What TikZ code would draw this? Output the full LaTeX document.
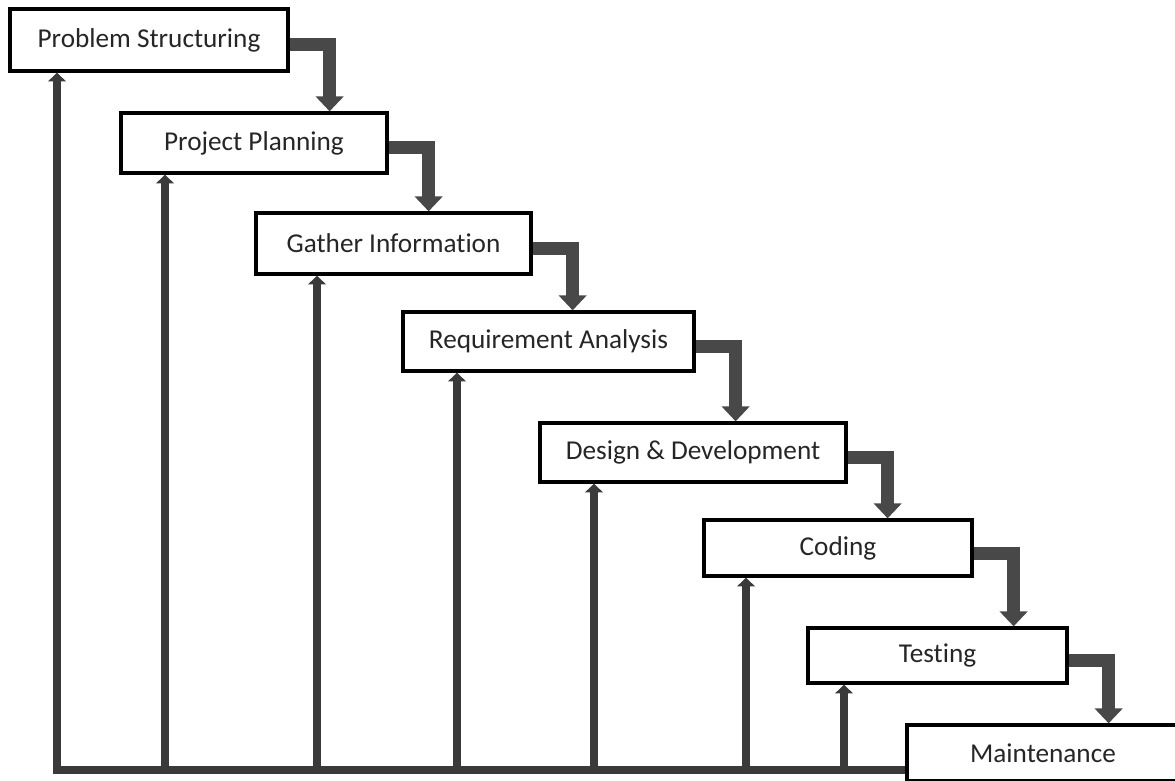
\documentclass[tikz,border=0pt]{standalone}
\usepackage{fontspec}
\setmainfont{Carlito}[Ligatures=NoCommon]
\usepackage{tikz}
\usetikzlibrary{arrows.meta}
\definecolor{flowgray}{HTML}{484848}
\definecolor{backgray}{HTML}{3A3A3A}
\definecolor{textgray}{HTML}{262626}

\begin{document}
\begin{tikzpicture}[x=0.02cm,y=-0.02cm,
	stage/.style={draw=black, line width=1.9pt, fill=white, text=textgray,
		font=\fontsize{15.5}{18}\selectfont, inner sep=0pt},
	flow/.style={draw=flowgray, line width=7.4pt, -{Triangle[width=15.5pt,length=8.5pt]}},
	back/.style={draw=backgray, line width=4.6pt, -{Triangle[width=10pt,length=5pt]}}]
		\clip (0,0) rectangle (1175,780);
		% the eight stages, top left to bottom right
		\foreach \n/\x/\y/\w/\h/\t in {1/149/40/5.56/1.24/Problem Structuring,
				2/254/143/5.32/1.2/Project Planning,
				3/393.5/243.5/5.5/1.22/Gather Information,
				4/548.5/341.5/5.82/1.18/Requirement Analysis,
				5/693/452.5/6.12/1.18/Design \& Development,
				6/838/548/5.36/1.12/Coding,
				7/937.5/655.5/5.18/1.1/Testing,
				8/1043/753/5.44/1.12/Maintenance}{
			\node[stage, minimum width=\w cm, minimum height=\h cm] (s\n) at (\x,\y) {\t};
		}
		% elbow arrows down the cascade
		\foreach \i/\j in {1/2, 2/3, 3/4, 4/5, 5/6, 6/7, 7/8}{
			\draw[flow] ([yshift=-0.1cm]s\i.east) -| ([xshift=0.8cm]s\i.east |- s\j.north);
		}
		% feedback lines from the base back up
		\coordinate (corner) at (57,770);
		\draw[back] (s8.west |- corner) -- (corner) -- (corner |- s1.south);
		\foreach \x/\i in {165/2, 317/3, 457/4, 594/5, 746/6, 844/7}{
			\coordinate (f\i) at (\x,770);
			\draw[back] (f\i) -- (f\i |- s\i.south);
		}
		\end{tikzpicture}
\end{document}
